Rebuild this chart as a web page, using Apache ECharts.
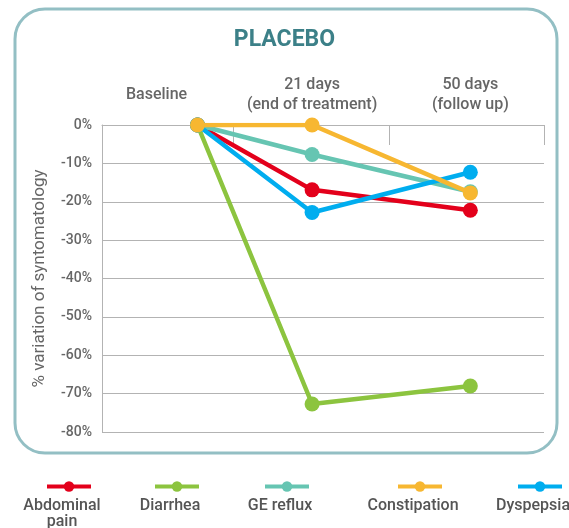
<!DOCTYPE html>
<html><head><meta charset="utf-8">
<script src="https://cdn.jsdelivr.net/npm/echarts@6/dist/echarts.min.js"></script>
<style>html,body{margin:0;padding:0;background:#fff}#c{width:569px;height:528px}</style>
</head><body><div id="c"></div>
<script>
// ---- data ----
const days = [0, 21, 50];
const timeLabelPos = [-7.5, 21, 50];
const timeLabels = ['Baseline', '21 days\n(end of treatment)', '50 days\n(follow up)'];
const seriesNames = ['Abdominal pain', 'Diarrhea', 'GE reflux', 'Constipation', 'Dyspepsia'];
const legendLabels = ['Abdominal\npain', 'Diarrhea', 'GE reflux', 'Constipation', 'Dyspepsia'];
const abdominalPain = [0, -16.9, -22.2];
const diarrhea = [0, -72.7, -68];
const geReflux = [0, -7.7, -17.4];
const constipation = [0, 0, -17.7];
const dyspepsia = [0, -22.8, -12.3];
const sectionBounds = [6.5, 35.1, 63.5];

const values = [abdominalPain, diarrhea, geReflux, constipation, dyspepsia];
const colors = ['#e3001b', '#8cc43f', '#66c5b2', '#f7b731', '#00adef'];
const zOrder = [3, 4, 5, 8, 6];
const legendCenters = [62, 170, 280, 413, 533];

const chart = echarts.init(document.getElementById('c'), null, {renderer: 'canvas'});
const FONT = 'Roboto';
const grey = '#b3b3b3';
const labelColor = '#666';

const series = seriesNames.map((n, i) => ({
  name: n,
  type: 'line',
  data: days.map((d, j) => [d, values[i][j]]),
  lineStyle: {color: colors[i], width: 4.5},
  itemStyle: {color: colors[i]},
  symbol: 'circle',
  symbolSize: 15,
  showSymbol: true,
  z: zOrder[i]
}));

const legends = seriesNames.map((n, i) => ({
  data: [n],
  left: legendCenters[i] - 22,
  top: 475,
  itemWidth: 44,
  itemHeight: 13,
  itemGap: 0,
  formatter: () => '',
  selectedMode: false,
  lineStyle: {width: 4}
}));

const graphics = [{
  type: 'rect',
  shape: {x: 15, y: 9, width: 542, height: 444, r: 30},
  style: {fill: 'none', stroke: '#93bfc4', lineWidth: 3},
  silent: true
}].concat(legendLabels.map((t, i) => ({
  type: 'text',
  x: legendCenters[i],
  y: 498,
  style: {text: t, fill: '#555', font: '500 16px ' + FONT, textAlign: 'center', textVerticalAlign: 'top', lineHeight: 16},
  silent: true
})));

chart.setOption({
  animation: false,
  title: {
    text: 'PLACEBO', left: 'center', top: 24,
    textStyle: {fontFamily: FONT, fontSize: 23, fontWeight: 'bold', color: '#3c8088'}
  },
  grid: {left: 102, right: 25, top: 125, bottom: 96},
  xAxis: {
    type: 'value', position: 'top', min: -17.5, max: 63.5,
    axisLine: {show: true, onZero: false, lineStyle: {color: grey, width: 1}},
    axisTick: {show: true, inside: true, length: 20, customValues: sectionBounds, lineStyle: {color: grey, width: 1}},
    axisLabel: {
      show: true, customValues: timeLabelPos, margin: 30, verticalAlign: 'middle',
      formatter: v => { const k = timeLabelPos.indexOf(v); return k >= 0 ? timeLabels[k] : ''; },
      color: labelColor, fontFamily: FONT, fontWeight: 500, fontSize: 16, lineHeight: 20
    },
    splitLine: {show: false}
  },
  yAxis: {
    type: 'value', min: -80, max: 0, interval: 10,
    name: '% variation of syntomatology', nameLocation: 'middle', nameGap: 54, nameRotate: 90,
    nameTextStyle: {color: labelColor, fontFamily: FONT, fontWeight: 400, fontSize: 17},
    axisLine: {show: true, onZero: false, lineStyle: {color: grey, width: 1}},
    axisTick: {show: false},
    axisLabel: {formatter: '{value}%', color: labelColor, fontFamily: FONT, fontWeight: 500, fontSize: 14, margin: 10},
    splitLine: {show: true, lineStyle: {color: grey, width: 1}}
  },
  legend: legends,
  graphic: graphics,
  series: series
});
</script></body></html>
